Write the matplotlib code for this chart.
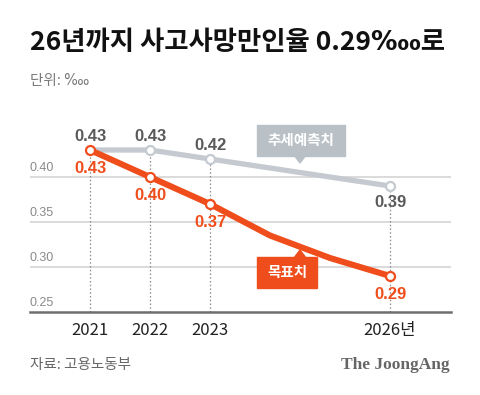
import matplotlib
matplotlib.use("Agg")
import matplotlib.pyplot as plt
from matplotlib.patches import Rectangle, Polygon

plt.rcParams['font.family'] = ['Noto Sans CJK KR', 'DejaVu Sans']

years_trend = [2021, 2022, 2023, 2024, 2025, 2026]
trend = [0.43, 0.43, 0.42, 0.41, 0.40, 0.39]
trend_marked = [2021, 2022, 2023, 2026]

years_target = [2021, 2022, 2023, 2024, 2025, 2026]
target = [0.43, 0.40, 0.37, 0.335, 0.31, 0.29]
target_marked = [2021, 2022, 2023, 2026]

xtick_years = [2021, 2022, 2023, 2026]
xtick_labels = ['2021', '2022', '2023', '2026년']
ytick_vals = [0.25, 0.30, 0.35, 0.40]
ytick_labels = ['0.25', '0.30', '0.35', '0.40']

title = '26년까지 사고사망만인율 0.29‱로'
unit = '단위: ‱'
source = '자료: 고용노동부'
brand = 'The JoongAng'
trend_name = '추세예측치'
target_name = '목표치'

ORANGE = '#EF4E1C'
GRAYLINE = '#C4CACF'
GRAYBOX = '#B9C0C6'

W, H = 480, 395
fig = plt.figure(figsize=(W / 100, H / 100), dpi=100)
fig.patch.set_facecolor('white')

# axes placement in pixels
L, R, T, B = 30, 451, 120, 312
ax = fig.add_axes([L / W, 1 - B / H, (R - L) / W, (B - T) / H])
ax.set_xlim(2020, 2020 + (R - L) / 60)
ax.set_ylim(0.25, 0.25 + (B - T) / 900)
for s in ['top', 'right', 'left']:
    ax.spines[s].set_visible(False)
ax.spines['bottom'].set_color('#6E6E6E')
ax.spines['bottom'].set_linewidth(1.8)
ax.set_facecolor('none')

# gridlines + y labels
for v, lab in zip(ytick_vals, ytick_labels):
    if v > 0.25:
        ax.axhline(v, color='#DADADA', lw=1.4, zorder=0)
    ax.annotate(lab, (0, v), xycoords=('axes fraction', 'data'),
                xytext=(0, 2), textcoords='offset points',
                ha='left', va='bottom', fontsize=9, color='#8A8A8A',
                family=['Liberation Sans'])
ax.set_yticks([])

ax.set_xticks(xtick_years)
ax.set_xticklabels(xtick_labels, fontsize=12, color='#222222')
ax.tick_params(axis='x', length=0, pad=7)

# dotted verticals
tr = dict(zip(years_trend, trend))
tg = dict(zip(years_target, target))
for y in xtick_years:
    top = max(tr[y], tg[y])
    ax.plot([y, y], [0.25, top], color='#8C8C8C', lw=0.9,
            ls=(0, (1.2, 1.8)), zorder=1)

# lines
ax.plot(years_trend, trend, color=GRAYLINE, lw=3.8, solid_capstyle='butt',
        solid_joinstyle='round', zorder=2)
ax.plot(years_target, target, color=ORANGE, lw=4.4, solid_capstyle='butt',
        solid_joinstyle='round', zorder=3)

ax.plot(trend_marked[1:], [tr[y] for y in trend_marked[1:]], 'o', ms=6.5,
        mfc='white', mec=GRAYLINE, mew=1.6, zorder=4)
ax.plot(target_marked, [tg[y] for y in target_marked], 'o', ms=6.5,
        mfc='white', mec=ORANGE, mew=1.6, zorder=5)

# value labels
for y in trend_marked:
    v = tr[y]
    off = 10 if y != 2026 else -12
    ax.annotate(f'{v:.2f}', (y, v), xytext=(0, off), textcoords='offset points',
                ha='center', va='center', fontsize=12, color='#5A5A5A',
                family=['Liberation Sans'], fontweight='bold', zorder=6)
for y in target_marked:
    v = tg[y]
    ax.annotate(f'{v:.2f}', (y, v), xytext=(0, -13), textcoords='offset points',
                ha='center', va='center', fontsize=12, color=ORANGE,
                family=['Liberation Sans'], fontweight='bold', zorder=6)

# callouts (in pixel coordinates of the figure)
def px(x, y):
    return (x / W, 1 - y / H)

def callout(x0, y0, x1, y1, tip, base_y, color, text):
    fig.patches.append(Rectangle(px(x0, y1), (x1 - x0) / W, (y1 - y0) / H,
                                 transform=fig.transFigure, color=color,
                                 zorder=10))
    tx, ty = tip
    fig.patches.append(Polygon([px(tx - 6, base_y), px(tx + 6, base_y), px(tx, ty)],
                               closed=True, transform=fig.transFigure,
                               color=color, zorder=10))
    cx, cy = px((x0 + x1) / 2, (y0 + y1) / 2)
    fig.text(cx, cy, text, ha='center', va='center', fontsize=10.5,
             color='white', fontweight='bold', zorder=11)

callout(257, 125, 345, 156, (300, 163), 155, GRAYBOX, trend_name)
callout(257, 257, 317, 288, (300, 250), 258, ORANGE, target_name)

# texts
fig.text(30 / W, 1 - 43 / H, title, ha='left', va='center', fontsize=19,
         fontweight='bold', color='#111111')
fig.text(30 / W, 1 - 81 / H, unit, ha='left', va='center', fontsize=10.5,
         color='#7A7A7A')
fig.text(30 / W, 1 - 365 / H, source, ha='left', va='center', fontsize=10.5,
         color='#666666')
fig.text(450 / W, 1 - 365 / H, brand, ha='right', va='center', fontsize=12.5,
         color='#666666', family=['Liberation Serif'], fontweight='bold')

fig.savefig('out.png', dpi=100, facecolor='white')
